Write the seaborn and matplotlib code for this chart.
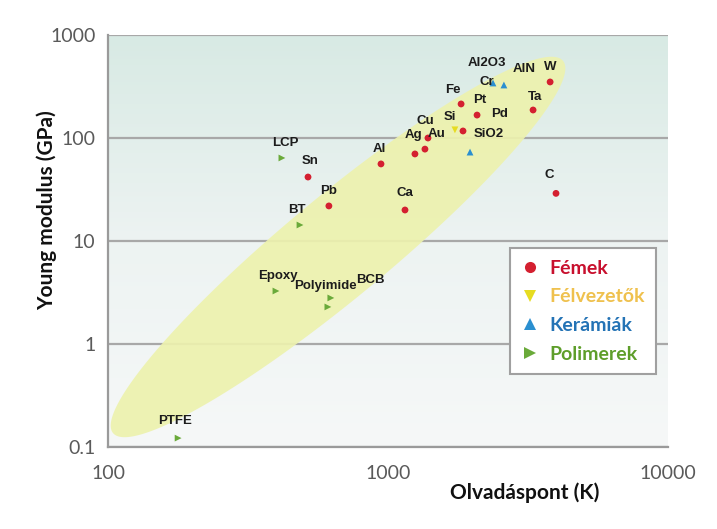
import numpy as np
import pandas as pd
import matplotlib
matplotlib.use('Agg')
import matplotlib.pyplot as plt
import seaborn as sns
from matplotlib.lines import Line2D
from matplotlib.colors import LinearSegmentedColormap

# --- data ---
names = ['PTFE', 'Epoxy', 'Polyimide', 'BCB', 'BT', 'LCP',
         'Sn', 'Pb', 'Al', 'Ca', 'Ag', 'Au', 'Cu', 'Si', 'Ti', 'SiO2',
         'Fe', 'Pt', 'Al2O3', 'AlN', 'W', 'Ta', 'C']
groups = ['Polimerek'] * 6 + \
         ['Fémek'] * 7 + ['Félvezetők', 'Fémek', 'Kerámiák',
                          'Fémek', 'Fémek', 'Kerámiák', 'Kerámiák',
                          'Fémek', 'Fémek', 'Fémek']
melting = [178, 398, 610, 625, 485, 418,
           518, 615, 944, 1150, 1248, 1355, 1389, 1734, 1853, 1963,
           1824, 2080, 2371, 2594, 3793, 3297, 3981]
modulus = [0.122, 3.27, 2.29, 2.8, 14.3, 64,
           41.8, 21.9, 56, 20, 70, 78, 100, 120, 117, 73,
           214, 167, 342, 327, 350, 187, 29]

group_order = ['Fémek', 'Félvezetők', 'Kerámiák', 'Polimerek']
x_ticks = [100, 1000, 10000]
x_tick_labels = ['100', '1000', '10000']
y_ticks = [0.1, 1, 10, 100, 1000]
y_tick_labels = ['0.1', '1', '10', '100', '1000']

df = pd.DataFrame({'name': names, 'group': groups,
                   'melt': melting, 'E': modulus})

# label offsets in pixels (layout only)
label_offsets = {
    'PTFE': (-3, 17), 'Epoxy': (2, 15), 'Polyimide': (-2, 21), 'BCB': (40, 18),
    'BT': (-3, 15), 'LCP': (3, 15), 'Sn': (2, 16), 'Pb': (0, 15),
    'Al': (-2, 15), 'Ca': (0, 17), 'Ag': (-1, 19), 'Au': (12, 15),
    'Cu': (-3, 17), 'Si': (-5, 13), 'SiO2': (19, 18), 'Fe': (-8, 14),
    'Pt': (3, 15), 'Al2O3': (-6, 20), 'AlN': (20, 16), 'W': (0, 15),
    'Ta': (2, 13), 'C': (-7, 18),
}
# labels that float next to another point
extra_labels = [('Cr', 'Al2O3', -6, 1), ('Pd', 'Pt', 23, 1)]

palette = {'Fémek': '#d42030', 'Félvezetők': '#e6dc22',
           'Kerámiák': '#2a8fd0', 'Polimerek': '#6aaa3a'}
text_colors = ['#c8102e', '#efc14e', '#2473b5', '#5e9e2a']
markers = {'Fémek': 'o', 'Félvezetők': 'v', 'Kerámiák': '^', 'Polimerek': '>'}

sns.set_style('white')
plt.rcParams['font.family'] = ['Lato', 'DejaVu Sans']

fig = plt.figure(figsize=(7.17, 5.29), dpi=100)
pos = [108 / 717, 1 - 447 / 529, 560 / 717, 412 / 529]

# gradient background
bg = fig.add_axes(pos, zorder=0)
cmap = LinearSegmentedColormap.from_list('bg', ['#f6f8f8', '#edf3f2', '#d8eae4'])
bg.imshow(np.linspace(0, 1, 256).reshape(-1, 1), cmap=cmap, aspect='auto',
          origin='lower', extent=[0, 1, 0, 1])
bg.axis('off')

ax = fig.add_axes(pos, zorder=1)
ax.patch.set_alpha(0)
ax.set_xscale('log')
ax.set_yscale('log')
ax.set_xlim(100, 10000)
ax.set_ylim(0.1, 1000)

# highlight ellipse (defined in pixel geometry, mapped to log axes)
bbox = ax.get_window_extent()
px_dec_x = bbox.width / 2
px_dec_y = bbox.height / 4
cx, cy = 663, 8.75
half_len, half_wid, ang = 292, 51, np.deg2rad(39.6)
t = np.linspace(0, 2 * np.pi, 300)
dx = half_len * np.cos(t) * np.cos(ang) - half_wid * np.sin(t) * np.sin(ang)
dy = half_len * np.cos(t) * np.sin(ang) + half_wid * np.sin(t) * np.cos(ang)
ax.fill(10 ** (np.log10(cx) + dx / px_dec_x), 10 ** (np.log10(cy) + dy / px_dec_y),
        color='#edf2ae', alpha=0.92, lw=0, zorder=2)

sns.scatterplot(data=df, x='melt', y='E', hue='group', style='group',
                hue_order=group_order, style_order=group_order,
                palette=palette, markers=markers, s=24, edgecolor='none',
                legend=False, ax=ax, zorder=4)

lab_font = dict(fontsize=9.5, fontweight='bold', family='Liberation Sans',
                color='#1c1c1c', ha='center', va='center', zorder=5)
for _, r in df.iterrows():
    if r['name'] in label_offsets:
        ox, oy = label_offsets[r['name']]
        ax.annotate(r['name'], (r['melt'], r['E']), xytext=(ox, oy),
                    textcoords='offset pixels', **lab_font)
for txt, anchor, ox, oy in extra_labels:
    r = df[df['name'] == anchor].iloc[0]
    ax.annotate(txt, (r['melt'], r['E']), xytext=(ox, oy),
                textcoords='offset pixels', **lab_font)

# grid, spines, ticks
ax.yaxis.grid(True, color='#a8a8a8', lw=1.6, zorder=1)
ax.xaxis.grid(False)
ax.set_axisbelow(True)
for s in ['top', 'right']:
    ax.spines[s].set_visible(False)
for s in ['left', 'bottom']:
    ax.spines[s].set_color('#9a9a9a')
    ax.spines[s].set_linewidth(1.6)
ax.set_xticks(x_ticks)
ax.set_xticklabels(x_tick_labels)
ax.set_yticks(y_ticks)
ax.set_yticklabels(y_tick_labels)
ax.minorticks_off()
ax.tick_params(axis='both', which='major', length=5, width=1.2, color='#9a9a9a',
               labelsize=14, labelcolor='#5a5a5a', direction='out', pad=4)
ax.tick_params(axis='x', pad=8)

ax.set_xlabel('Olvadáspont (K)', fontsize=15, fontweight='bold', color='#111111')
ax.xaxis.set_label_coords((525 - 108) / 560, (447 - 493) / 412)
ax.xaxis.label.set_va('center')
ax.set_ylabel('Young modulus (GPa)', fontsize=15, fontweight='bold', color='#111111')
ax.yaxis.set_label_coords((47 - 108) / 560, (447 - 210) / 412)
ax.yaxis.label.set_va('center')

handles = [Line2D([], [], ls='none', marker=markers[g], color=palette[g],
                  markersize=8, markeredgewidth=0) for g in group_order]
leg = ax.legend(handles, group_order, loc='upper left',
                bbox_to_anchor=((510 - 108) / 560, (447 - 248) / 412),
                borderaxespad=0,
                frameon=True, fancybox=False, framealpha=1, facecolor='white',
                edgecolor='#a0a0a0', prop={'family': 'Lato', 'weight': 'bold', 'size': 14},
                labelcolor=text_colors, handlelength=0.9, handletextpad=0.5,
                labelspacing=0.6, borderpad=0.6)
leg.get_frame().set_linewidth(1.5)

fig.savefig('out.png', dpi=100)
